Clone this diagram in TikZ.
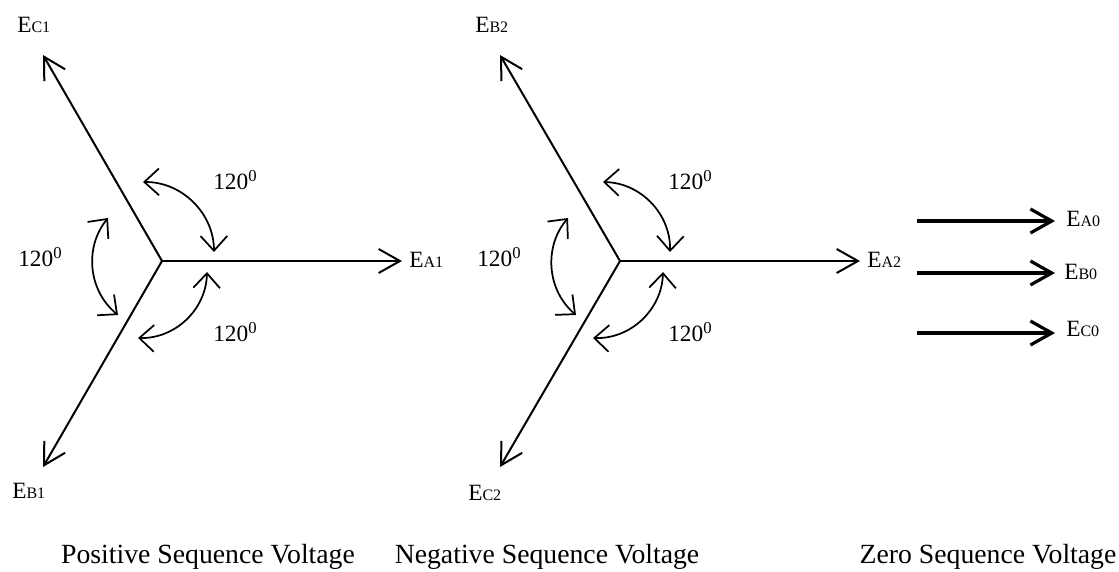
\documentclass[tikz,border=0pt]{standalone}
\usepackage{fontspec}
\setmainfont{Liberation Serif}
\usetikzlibrary{arrows.meta,calc}
\newcommand{\phsub}[2]{E{\fontsize{12}{12}\selectfont #1#2}}
\newcommand{\degsup}{\raisebox{6pt}{\fontsize{12.5}{12.5}\selectfont 0}}
\tikzset{
  phasor/.style={
    -{Straight Barb[length=16pt,width=18pt]}, line width=1.5pt
  },
  zeroarrow/.style={
    -{Straight Barb[length=16pt,width=18pt]}, line width=2.4pt
  },
  anglearrow/.style={
    {Straight Barb[length=11pt,width=20pt]}-{Straight Barb[length=11pt,width=20pt]},
    line width=1.3pt
  },
  phname/.style={
    font=\fontsize{17.5}{20}\selectfont, inner sep=0pt, anchor=base west
  },
  anglelabel/.style={
    font=\fontsize{17.5}{20}\selectfont, inner sep=0pt, anchor=base west
  },
  seqcaption/.style={
    font=\fontsize{20.8}{24}\selectfont, inner sep=0pt, anchor=base
  },
}
\begin{document}
\begin{tikzpicture}[x=0.75pt,y=-0.75pt]
  \useasboundingbox (0,0) rectangle (1119,571);

  % Positive sequence
  \coordinate (o1) at (162,261);
  \coordinate (a1) at (402,261);
  \coordinate (b1) at (43,467);
  \coordinate (c1) at (43,55);
  \draw[phasor] (o1) -- (a1);
  \draw[phasor] (o1) -- (b1);
  \draw[phasor] (o1) -- (c1);
  \node[phname] (la1) at (409,267) {\phsub{A}{1}};
  \node[phname] (lb1) at (12,498) {\phsub{B}{1}};
  \node[phname] (lc1) at (17,32) {\phsub{C}{1}};
  \draw[anglearrow] ($(o1)+(-19,-79)$) to[bend left=45] ($(o1)+(52,-9)$);
  \draw[anglearrow] ($(o1)+(-54,-43)$) to[bend right=45] ($(o1)+(-44,54)$);
  \draw[anglearrow] ($(o1)+(45,11)$) to[bend left=45] ($(o1)+(-24,77)$);
  \node[anglelabel] (ang1t) at (213,189) {120\degsup};
  \node[anglelabel] (ang1l) at (18,266) {120\degsup};
  \node[anglelabel] (ang1b) at (213,341) {120\degsup};

  % Negative sequence
  \coordinate (o2) at (620,261);
  \coordinate (a2) at (860,261);
  \coordinate (b2) at (500,55);
  \coordinate (c2) at (500,467);
  \draw[phasor] (o2) -- (a2);
  \draw[phasor] (o2) -- (b2);
  \draw[phasor] (o2) -- (c2);
  \node[phname] (la2) at (867,267) {\phsub{A}{2}};
  \node[phname] (lb2) at (475,32) {\phsub{B}{2}};
  \node[phname] (lc2) at (468,500) {\phsub{C}{2}};
  \draw[anglearrow] ($(o2)+(-17,-79)$) to[bend left=45] ($(o2)+(50,-9)$);
  \draw[anglearrow] ($(o2)+(-52,-43)$) to[bend right=45] ($(o2)+(-44,54)$);
  \draw[anglearrow] ($(o2)+(43,11)$) to[bend left=45] ($(o2)+(-27,77)$);
  \node[anglelabel] (ang2t) at (668,189) {120\degsup};
  \node[anglelabel] (ang2l) at (477,266) {120\degsup};
  \node[anglelabel] (ang2b) at (668,341) {120\degsup};

  % Zero sequence
  \coordinate (za) at (917,221);
  \coordinate (zb) at (917,273);
  \coordinate (zc) at (917,333);
  \coordinate (ta) at (1055,221);
  \coordinate (tb) at (1055,273);
  \coordinate (tc) at (1055,333);
  \draw[zeroarrow] (za) -- (ta);
  \draw[zeroarrow] (zb) -- (tb);
  \draw[zeroarrow] (zc) -- (tc);
  \node[phname] (la0) at (1066,226) {\phsub{A}{0}};
  \node[phname] (lb0) at (1064,279) {\phsub{B}{0}};
  \node[phname] (lc0) at (1066,336) {\phsub{C}{0}};

  % captions
  \node[seqcaption] (cap1) at (208,563) {Positive Sequence Voltage};
  \node[seqcaption] (cap2) at (547,563) {Negative Sequence Voltage};
  \node[seqcaption] (cap0) at (988,563) {Zero Sequence Voltage};
\end{tikzpicture}
\end{document}
